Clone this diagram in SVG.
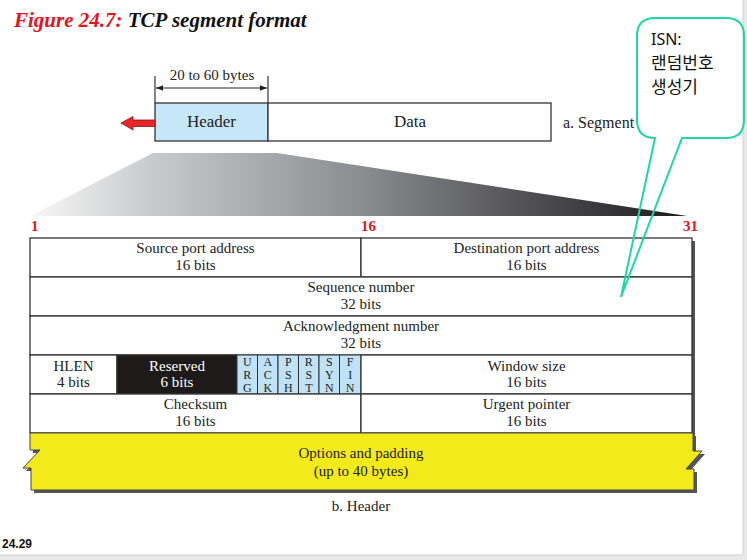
<svg xmlns="http://www.w3.org/2000/svg" width="747" height="560" viewBox="0 0 747 560">
<defs>
<style>
.serif{font-family:"Liberation Serif","Times New Roman",serif;fill:#222;}
.t15{font-size:15px;text-anchor:middle;}
.flag{font-size:12px;text-anchor:middle;}
.cell{fill:#fff;stroke:#333;stroke-width:1.3;}
.red{font-family:"Liberation Serif",serif;font-weight:bold;fill:#e3141c;font-size:15px;}
.box{stroke:#333;stroke-width:1.3;}
.fl{fill:#bfe2f6;stroke:#333;stroke-width:1;}
.ko{font-family:"Noto Sans CJK KR",sans-serif;font-size:17px;fill:#111;}
</style>
<linearGradient id="fan" gradientUnits="userSpaceOnUse" x1="30" y1="0" x2="687" y2="0">
<stop offset="0" stop-color="#f8f8f8"/>
<stop offset="0.19" stop-color="#c8c9cb"/>
<stop offset="0.5" stop-color="#8c8d91"/>
<stop offset="0.76" stop-color="#505053"/>
<stop offset="1" stop-color="#1c1c1c"/>
</linearGradient>
<marker id="ah" viewBox="0 0 10 10" refX="10" refY="5" markerWidth="7" markerHeight="7" orient="auto-start-reverse" markerUnits="userSpaceOnUse">
<path d="M0,1 L10,5 L0,9 Z" fill="#222"/>
</marker>
</defs>
<rect x="0" y="0" width="747" height="560" fill="#fff"/>
<rect x="743" y="0" width="4" height="560" fill="#e8e8e8"/>
<line x1="743" y1="0" x2="743" y2="555" stroke="#cfcfcf"/>
<rect x="0" y="555" width="747" height="5" fill="#e8e8e8"/>
<line x1="0" y1="555" x2="743" y2="555" stroke="#cfcfcf"/>

<g id="title">
<text x="14" y="27" font-family="Liberation Serif, serif" font-weight="bold" font-style="italic" font-size="21"><tspan fill="#e3141c">Figure 24.7:</tspan><tspan fill="#111"> TCP segment format</tspan></text>
</g>

<g id="segment">
<rect x="155" y="103" width="113" height="38" fill="#c6e7f8" class="box"/>
<rect x="268" y="103" width="283" height="38" fill="#fff" class="box"/>
<text class="serif" x="211.5" y="127" font-size="17" text-anchor="middle">Header</text>
<text class="serif" x="410" y="127" font-size="17" text-anchor="middle">Data</text>
<text class="serif" x="563" y="128" font-size="16">a. Segment</text>
<text class="serif" x="212" y="80" font-size="15" text-anchor="middle">20 to 60 bytes</text>
</g>

<g id="fan">
<polygon points="153,153 277,153 687,216 30,216" fill="url(#fan)"/>
</g>

<g id="bit-numbers">
<text class="red" x="31" y="231">1</text>
<text class="red" x="361" y="231">16</text>
<text class="red" x="683" y="231">31</text>
</g>

<g id="header-table">
<rect x="33" y="241" width="662" height="195" fill="#555"/>
<g id="row1">
<rect class="cell" x="30" y="238" width="331" height="39"/>
<rect class="cell" x="361" y="238" width="331" height="39"/>
<text class="serif t15" x="195.5" y="253">Source port address</text>
<text class="serif t15" x="195.5" y="270">16 bits</text>
<text class="serif t15" x="526.5" y="253">Destination port address</text>
<text class="serif t15" x="526.5" y="270">16 bits</text>
</g>
<g id="row2">
<rect class="cell" x="30" y="277" width="662" height="39"/>
<text class="serif t15" x="361" y="292">Sequence number</text>
<text class="serif t15" x="361" y="309">32 bits</text>
</g>
<g id="row3">
<rect class="cell" x="30" y="316" width="662" height="39"/>
<text class="serif t15" x="361" y="331">Acknowledgment number</text>
<text class="serif t15" x="361" y="348">32 bits</text>
</g>
<g id="row4">
<rect class="cell" x="30" y="355" width="87" height="39"/>
<text class="serif t15" x="73.5" y="371">HLEN</text>
<text class="serif t15" x="73.5" y="387">4 bits</text>
<rect x="117" y="355" width="120" height="39" fill="#1e1a1a" stroke="#333" stroke-width="1.3"/>
<text class="t15" x="177" y="371" font-family="Liberation Serif, serif" fill="#fff">Reserved</text>
<text class="t15" x="177" y="387" font-family="Liberation Serif, serif" fill="#fff">6 bits</text>
<g id="flags">
<rect class="fl" x="237" y="355" width="20.5" height="39"/>
<rect class="fl" x="257.5" y="355" width="20.5" height="39"/>
<rect class="fl" x="278" y="355" width="20.5" height="39"/>
<rect class="fl" x="298.5" y="355" width="20.5" height="39"/>
<rect class="fl" x="319" y="355" width="20.5" height="39"/>
<rect class="fl" x="339.5" y="355" width="21.5" height="39"/>
<text class="serif flag" x="247.3" y="365.5">U</text><text class="serif flag" x="247.3" y="378.5">R</text><text class="serif flag" x="247.3" y="391.5">G</text>
<text class="serif flag" x="267.8" y="365.5">A</text><text class="serif flag" x="267.8" y="378.5">C</text><text class="serif flag" x="267.8" y="391.5">K</text>
<text class="serif flag" x="288.3" y="365.5">P</text><text class="serif flag" x="288.3" y="378.5">S</text><text class="serif flag" x="288.3" y="391.5">H</text>
<text class="serif flag" x="308.8" y="365.5">R</text><text class="serif flag" x="308.8" y="378.5">S</text><text class="serif flag" x="308.8" y="391.5">T</text>
<text class="serif flag" x="329.3" y="365.5">S</text><text class="serif flag" x="329.3" y="378.5">Y</text><text class="serif flag" x="329.3" y="391.5">N</text>
<text class="serif flag" x="350.2" y="365.5">F</text><text class="serif flag" x="350.2" y="378.5">I</text><text class="serif flag" x="350.2" y="391.5">N</text>
</g>
<rect class="cell" x="361" y="355" width="331" height="39"/>
<text class="serif t15" x="526.5" y="371">Window size</text>
<text class="serif t15" x="526.5" y="387">16 bits</text>
</g>
<g id="row5">
<rect class="cell" x="30" y="394" width="331" height="39"/>
<rect class="cell" x="361" y="394" width="331" height="39"/>
<text class="serif t15" x="195.5" y="409">Checksum</text>
<text class="serif t15" x="195.5" y="426">16 bits</text>
<text class="serif t15" x="526.5" y="409">Urgent pointer</text>
<text class="serif t15" x="526.5" y="426">16 bits</text>
</g>
<g id="options">
<path d="M30,433 H693 V451 H702 L686,469 H694 V490 H31 V468 H23 L40,450 H30 Z" fill="#555" transform="translate(3,3)"/>
<path d="M30,433 H693 V451 H702 L686,469 H694 V490 H31 V468 H23 L40,450 H30 Z" fill="#f3ea1b" stroke="#444" stroke-width="1"/>
<text class="serif t15" x="361" y="458">Options and padding</text>
<text class="serif t15" x="361" y="476">(up to 40 bytes)</text>
</g>
<text class="serif t15" x="361" y="511">b. Header</text>
</g>

<g id="connectors">
<line x1="155" y1="76" x2="155" y2="103" stroke="#333" stroke-width="1.2"/>
<line x1="268" y1="76" x2="268" y2="103" stroke="#333" stroke-width="1.2"/>
<line x1="156" y1="88" x2="267" y2="88" stroke="#222" stroke-width="1.2" marker-start="url(#ah)" marker-end="url(#ah)"/>
<path d="M121,123 L133,116.5 V120 H155 V126.5 H133 V130 Z" fill="#e8262a" stroke="#8a1414" stroke-width="0.8"/>
</g>

<g id="callout">
<path d="M655,18 H726 Q744,18 744,36 V120 Q744,138 726,138 H682 L621,297 L655,138 Q637,138 637,120 V36 Q637,18 655,18 Z" fill="none" stroke="#1fd6a4" stroke-width="2"/>
<text x="651" y="45" font-family="Noto Sans, sans-serif" font-size="16" fill="#111">ISN:</text>
<text class="ko" x="651" y="69">랜덤번호</text>
<text class="ko" x="651" y="93">생성기</text>
</g>

<text x="2" y="548" font-family="Liberation Sans, Arial, sans-serif" font-weight="bold" font-size="13.5" textLength="30" lengthAdjust="spacingAndGlyphs" fill="#111">24.29</text>
</svg>
